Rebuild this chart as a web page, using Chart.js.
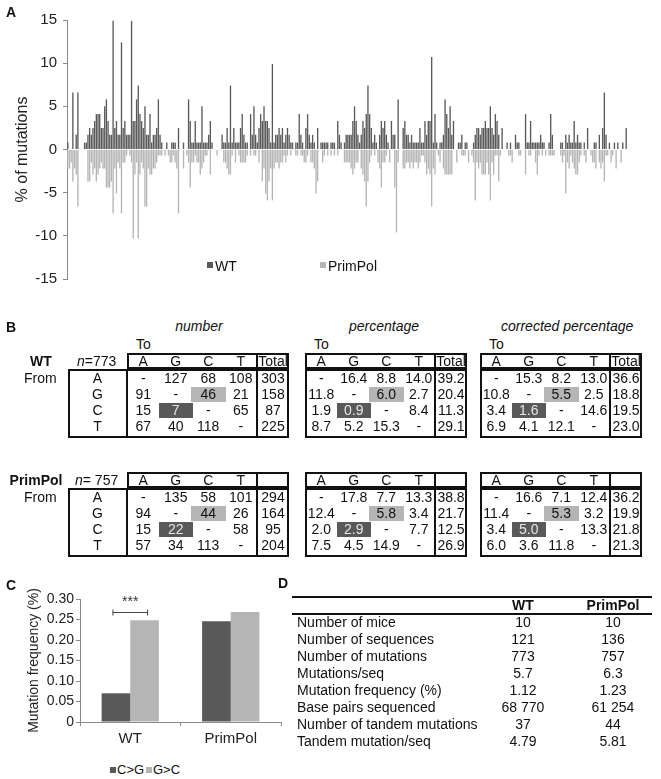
<!DOCTYPE html>
<html><head><meta charset="utf-8">
<script src="https://cdn.jsdelivr.net/npm/chart.js@4.4.1/dist/chart.umd.min.js"></script>
<style>
body{margin:0;background:#fff;}
#root{position:relative;width:661px;height:779px;overflow:hidden;font-family:"Liberation Sans",Arial,sans-serif;color:#111;background:#fff;}
.abs{position:absolute;white-space:nowrap;line-height:16px;height:16px;}
.bold{font-weight:bold;}
.nar{font-family:"Liberation Sans Narrow","Liberation Sans",Arial,sans-serif;font-size:13px;}
canvas{position:absolute;}
.box{position:absolute;box-sizing:border-box;border:2px solid #111;}
.vl{position:absolute;background:#111;width:2px;}
.cell{position:absolute;}
</style></head><body><div id="root">
<canvas id="chartA" width="661" height="300" style="left:0;top:0"></canvas>
<canvas id="chartC" width="300" height="190" style="left:0;top:570px"></canvas>
</div>
<script>
// ---------- Panel A data (% of mutations per position) ----------
const WT = [
0.8,0,0,6.6,0,1.7,6.6,0,0,0,
0.8,0.8,1.7,2.5,1.7,2.5,3.3,4.1,4.1,4.1,
2.5,2.5,5.0,5.8,3.3,1.7,1.7,14.9,2.5,3.3,
1.7,1.7,12.4,2.5,3.3,1.7,1.7,1.7,14.9,3.3,
3.3,5.8,7.4,4.1,3.3,2.5,5.0,1.7,1.7,4.1,
0.8,1.7,1.7,2.5,5.8,1.7,0.8,0,0,0.8,
0,0,0.8,0.8,0.8,0,2.5,0,0,0.8,
0,0,5.8,3.3,0.8,0.8,3.3,0.8,0.8,0.8,
5.0,0.8,0.8,0.8,1.7,3.3,0.8,0,0,0,
0,0,1.7,0.8,0.8,2.5,0.8,7.4,0.8,2.5,
0.8,0.8,0.8,2.5,4.1,1.7,0.8,0.8,0,4.1,
1.7,5.0,1.7,0.8,2.5,4.1,3.3,5.0,3.3,3.3,
2.5,0.8,9.9,0.8,1.7,1.7,2.5,1.7,2.5,0.8,
1.7,2.5,1.7,0.8,0.8,0,0.8,0.8,4.1,1.7,
0.8,0,2.5,4.1,1.7,0.8,1.7,0.8,0,2.5,
0,0.8,0.8,0.8,0.8,0.8,0,0.8,0.8,0.8,
0,3.3,1.7,0.8,0,0.8,1.7,1.7,1.7,1.7,
3.3,5.0,3.3,1.7,0.8,1.7,3.3,2.5,4.1,7.4,
4.1,2.5,0.8,1.7,0.8,0,1.7,3.3,2.5,3.3,
1.7,0.8,0,3.3,1.7,1.7,0,5.8,0,0,
2.5,3.3,1.7,1.7,0.8,1.7,0.8,0.8,0.8,0.8,
2.5,0.8,0.8,3.3,1.7,3.3,3.3,10.7,0.8,4.1,
0.8,0,0.8,0.8,1.7,5.8,4.1,2.5,5.0,1.7,
3.3,0,0,0.8,0.8,1.7,0,0.8,0.8,0,
0,0,0.8,1.7,2.5,2.5,1.7,2.5,2.5,3.3,
2.5,2.5,5.0,2.5,1.7,4.1,3.3,1.7,0,2.5,
0,0,0.8,0,0.8,0,0,1.7,0.8,0.8,
0,0,0,4.1,0.8,0.8,3.3,0.8,0.8,0.8,
0.8,0.8,1.7,0.8,0.8,0,0,0.8,4.1,1.7,
0,0,0,0,0.8,0.8,0,1.7,0.8,1.7,
0.8,0.8,3.3,0.8,1.7,0.8,0.8,0,0.8,0,
2.5,0,0,0,0.8,0.8,0,1.7,0,2.5,
6.6,1.7,0,0.8,0,0,0.8,0,0.8,0,
0,0.8,0,2.5];
const PRIMPOL = [
-2.2,-2.2,-1.5,-3.7,-2.2,-2.9,-6.6,0,0,0,
0,0,-3.7,-3.7,-1.5,-2.9,-2.2,-3.7,-2.9,-2.2,
-1.5,-2.2,-2.2,-4.4,-4.4,-4.4,-3.7,-7.4,-2.2,-5.1,
-1.5,-2.2,-7.4,-1.5,-1.5,-0.7,0,-0.7,-1.5,-10.3,
-2.9,-1.5,-10.3,-2.9,-1.5,-2.2,-6.6,-6.6,-2.2,-2.9,
-2.9,-2.2,-2.2,-1.5,-0.7,-0.7,-0.7,0,-0.7,0,
-0.7,-1.5,-1.5,-0.7,-1.5,-2.2,-7.4,0,0,-2.2,
0,-0.7,-1.5,-4.4,-1.5,-1.5,-0.7,-1.5,-1.5,-2.9,
-2.2,-1.5,-0.7,-0.7,0,-2.9,0,0,0,-0.7,
0,0,0,-1.5,-1.5,-2.2,-2.9,-2.9,-0.7,0,
-1.5,0,-0.7,-1.5,-1.5,-1.5,-1.5,-0.7,0,-0.7,
0,-0.7,-0.7,0,-1.5,0,-3.7,-2.2,-5.1,-5.9,
-3.7,-2.2,-5.9,-2.2,-1.5,-1.5,-2.2,-1.5,-1.5,-0.7,
-1.5,-0.7,0,-0.7,0,0,-0.7,-0.7,0,-0.7,
-0.7,-1.5,-1.5,-0.7,0,-1.5,-1.5,-2.2,-5.1,-3.7,
0,0,-1.5,-0.7,0,-0.7,0,-0.7,0,-0.7,
0,-0.7,0,0,0,-1.5,-1.5,-1.5,-1.5,-2.2,
-2.9,-2.2,-1.5,-1.5,0,-2.2,-2.9,-3.7,-6.6,-3.7,
-1.5,-0.7,0,-0.7,0,-1.5,-2.2,-4.4,-1.5,-1.5,
-0.7,0,-1.5,0,0,-4.4,-9.6,-1.5,0,0,
-2.2,-2.2,-1.5,-1.5,-2.2,-1.5,-2.2,-1.5,-1.5,-2.2,
-1.5,-0.7,-0.7,-1.5,-2.9,-2.2,-2.9,-6.6,-2.2,-2.9,
0,-0.7,-1.5,0,-2.2,-2.9,-2.9,-2.9,-2.9,-2.9,
0,0,-1.5,0,0,-0.7,-0.7,-0.7,0,-1.5,
0,-0.7,-1.5,-5.9,-1.5,-2.2,-1.5,-2.9,-2.9,-2.9,
-1.5,-2.9,-5.9,-1.5,-2.9,-0.7,-0.7,-3.7,-0.7,0,
0,0,0,-0.7,-0.7,-1.5,0,0,0,-0.7,
-0.7,0,0,-2.9,0,-0.7,-0.7,0,0,-1.5,
-2.9,-0.7,0,-0.7,0,-0.7,0,-0.7,-0.7,-0.7,
-0.7,0,0,0,-0.7,-1.5,-0.7,-5.1,-1.5,-2.2,
-0.7,-1.5,-2.2,-2.9,-2.9,-1.5,-0.7,0,-0.7,-1.5,
0,0,-0.7,-1.5,-1.5,-2.2,0,-1.5,-2.2,-1.5,
-3.7,-0.7,-0.7,0,-1.5,-0.7,0,-2.2,0,0,
-1.5,0,0,0];
const POSITIONS = WT.map((_, i) => String(i + 1));
const A_TICKS = [15, 10, 5, 0, -5, -10, -15];

// ---------- Panel B data ----------
const BASES = ['A', 'G', 'C', 'T'];
const WT_NUMBER = [['-','127','68','108','303'],['91','-','46','21','158'],['15','7','-','65','87'],['67','40','118','-','225']];
const WT_PCT = [['-','16.4','8.8','14.0','39.2'],['11.8','-','6.0','2.7','20.4'],['1.9','0.9','-','8.4','11.3'],['8.7','5.2','15.3','-','29.1']];
const WT_CORR = [['-','15.3','8.2','13.0','36.6'],['10.8','-','5.5','2.5','18.8'],['3.4','1.6','-','14.6','19.5'],['6.9','4.1','12.1','-','23.0']];
const PP_NUMBER = [['-','135','58','101','294'],['94','-','44','26','164'],['15','22','-','58','95'],['57','34','113','-','204']];
const PP_PCT = [['-','17.8','7.7','13.3','38.8'],['12.4','-','5.8','3.4','21.7'],['2.0','2.9','-','7.7','12.5'],['7.5','4.5','14.9','-','26.9']];
const PP_CORR = [['-','16.6','7.1','12.4','36.2'],['11.4','-','5.3','3.2','19.9'],['3.4','5.0','-','13.3','21.8'],['6.0','3.6','11.8','-','21.3']];

// ---------- Panel C data ----------
const C_CATS = ['WT', 'PrimPol'];
const C_CG = [0.07, 0.246];
const C_GC = [0.248, 0.268];

// ---------- Panel D data ----------
const D_LABELS = ['Number of mice','Number of sequences','Number of mutations','Mutations/seq','Mutation frequency (%)','Base pairs sequenced','Number of tandem mutations','Tandem mutation/seq'];
const D_WT = ['10','121','773','5.7','1.12','68 770','37','4.79'];
const D_PP = ['10','136','757','6.3','1.23','61 254','44','5.81'];

const DARK = '#595959', LIGHT = '#b5b5b5', AXIS = '#8a8a8a';
Chart.defaults.font.family = '"Liberation Sans", Arial, sans-serif';
Chart.defaults.color = '#222';

const root = document.getElementById('root');
function put(text, x, y, opts = {}) {
  const d = document.createElement('div');
  d.className = 'abs ' + (opts.cls || '');
  d.textContent = text;
  const fs = opts.size || 14;
  d.style.fontSize = fs + 'px';
  d.style.top = (y - 8) + 'px';
  if (opts.align === 'center') { d.style.left = (x - 60) + 'px'; d.style.width = '120px'; d.style.textAlign = 'center'; }
  else if (opts.align === 'right') { d.style.left = (x - 120) + 'px'; d.style.width = '120px'; d.style.textAlign = 'right'; }
  else d.style.left = x + 'px';
  if (opts.italic) d.style.fontStyle = 'italic';
  if (opts.color) d.style.color = opts.color;
  root.appendChild(d);
  return d;
}
function rect(x1, y1, x2, y2, cls, bg) {
  const d = document.createElement('div');
  d.className = cls;
  d.style.left = x1 + 'px'; d.style.top = y1 + 'px';
  d.style.width = (x2 - x1) + 'px'; d.style.height = (y2 - y1) + 'px';
  if (bg) d.style.background = bg;
  root.appendChild(d);
  return d;
}

// ---------- Panel labels ----------
put('A', 6, 12, {cls: 'bold', size: 14});
put('B', 6, 327, {cls: 'bold', size: 14});
put('C', 6, 585, {cls: 'bold', size: 14});
put('D', 278, 583, {cls: 'bold', size: 14});

// ---------- Panel A chart ----------
new Chart(document.getElementById('chartA'), {
  type: 'bar',
  data: {
    labels: POSITIONS,
    datasets: [
      {label: 'WT', data: WT, backgroundColor: DARK, grouped: false, barPercentage: 0.8, categoryPercentage: 1},
      {label: 'PrimPol', data: PRIMPOL, backgroundColor: LIGHT, grouped: false, barPercentage: 0.8, categoryPercentage: 1}
    ]
  },
  options: {
    responsive: false, animation: false, devicePixelRatio: 1,
    layout: {padding: {top: 20, bottom: 21, left: 0, right: 34}},
    plugins: {legend: {display: false}, tooltip: {enabled: false}},
    scales: {
      x: {display: false},
      y: {
        min: -15, max: 15,
        afterBuildTicks: s => { s.ticks = A_TICKS.map(v => ({value: v})); },
        ticks: {color: '#222', font: {size: 15}, padding: 6},
        grid: {drawOnChartArea: false, drawTicks: true, tickLength: 4, color: AXIS},
        border: {display: true, color: AXIS},
        title: {display: true, text: '% of mutations', font: {size: 16}, color: '#222', padding: {top: 13, bottom: 0}},
        afterFit: s => { s.width = 67; }
      }
    }
  }
});
// legend A
rect(207, 262, 213, 268, 'cell', DARK);
put('WT', 215, 266, {size: 14});
rect(320, 262, 326, 268, 'cell', LIGHT);
put('PrimPol', 328, 266, {size: 14});

// ---------- Panel B tables ----------
const COLW = 32.5, TOTW = 32;
function table(left, rowCol, headTop, dataTop, dataBottom, rowYs, values, showTotal, lightRC, darkRC) {
  const right = left + 4 * COLW + TOTW;
  const sep = left + 4 * COLW;
  const hl = (rc, col) => rect(left + rc[1] * COLW - 1, rowYs[rc[0]] - 7.5, left + (rc[1] + 1) * COLW + 1, rowYs[rc[0]] + 7.5, 'cell', col);
  hl(lightRC, LIGHT); hl(darkRC, DARK);
  rect(left, headTop, right, headTop + 16, 'box');
  rect(sep - 1, headTop, sep + 1, headTop + 16, 'vl');
  BASES.forEach((b, i) => put(b, left + (i + 0.5) * COLW, headTop + 8, {cls: 'nar', align: 'center', size: 14}));
  if (showTotal) put('Total', sep + TOTW / 2, headTop + 8, {cls: 'nar', align: 'center', size: 14});
  const dl = rowCol ? 68 : left;
  rect(dl, dataTop, right, dataBottom, 'box');
  if (rowCol) rect(left - 1, dataTop, left + 1, dataBottom, 'vl');
  rect(sep - 1, dataTop, sep + 1, dataBottom, 'vl');
  if (rowCol) BASES.forEach((b, i) => put(b, (68 + left) / 2, rowYs[i], {cls: 'nar', align: 'center', size: 14}));
  values.forEach((row, r) => row.forEach((v, c) => {
    const x = c < 4 ? left + (c + 0.5) * COLW : sep + TOTW / 2;
    const isDark = r === darkRC[0] && c === darkRC[1];
    put(v, x, rowYs[r], {cls: 'nar', align: 'center', size: 14, color: isDark ? '#e6e6e6' : '#111'});
  }));
}
const T_LEFTS = [127, 305, 480];
put('number', 199, 326, {italic: true, align: 'center', size: 14});
put('percentage', 384, 326, {italic: true, align: 'center', size: 14});
put('corrected percentage', 561, 326, {italic: true, align: 'center', size: 14});
T_LEFTS.forEach(l => put('To', l + 9, 344, {cls: 'nar', size: 14}));
// WT block
put('WT', 41, 361, {cls: 'bold', align: 'center', size: 14});
const nw = put('', 77, 361, {size: 14});
nw.innerHTML = '<i>n</i>=773';
put('From', 24, 378, {size: 14});
const WT_ROWS = [378, 394, 410, 426];
table(127, true, 353, 369, 438, WT_ROWS, WT_NUMBER, true, [1, 2], [2, 1]);
table(305, false, 353, 369, 438, WT_ROWS, WT_PCT, true, [1, 2], [2, 1]);
table(480, false, 353, 369, 438, WT_ROWS, WT_CORR, true, [1, 2], [2, 1]);
// PrimPol block
put('PrimPol', 36, 480, {cls: 'bold', align: 'center', size: 14});
const np = put('', 75, 480, {size: 14});
np.innerHTML = '<i>n</i>= 757';
put('From', 24, 497, {size: 14});
const PP_ROWS = [497, 513, 529, 545];
table(127, true, 472, 488, 557, PP_ROWS, PP_NUMBER, false, [1, 2], [2, 1]);
table(305, false, 472, 488, 557, PP_ROWS, PP_PCT, false, [1, 2], [2, 1]);
table(480, false, 472, 488, 557, PP_ROWS, PP_CORR, false, [1, 2], [2, 1]);

// ---------- Panel C chart ----------
const bracketPlugin = {
  id: 'bracket',
  afterDatasetsDraw(chart) {
    const ctx = chart.ctx, y = chart.scales.y;
    const b0 = chart.getDatasetMeta(0).data[0], b1 = chart.getDatasetMeta(1).data[0];
    const x1 = b0.x - 3, x2 = b1.x + 3, yy = Math.round(y.getPixelForValue(0.268)) + 0.5;
    ctx.save();
    ctx.strokeStyle = '#444'; ctx.lineWidth = 1;
    ctx.beginPath();
    ctx.moveTo(x1, yy); ctx.lineTo(x2, yy);
    ctx.moveTo(x1, yy - 3); ctx.lineTo(x1, yy + 3);
    ctx.moveTo(x2, yy - 3); ctx.lineTo(x2, yy + 3);
    ctx.stroke();
    ctx.fillStyle = '#333'; ctx.font = '14px "Liberation Sans", Arial, sans-serif';
    ctx.textAlign = 'center'; ctx.textBaseline = 'middle';
    ctx.fillText('***', (x1 + x2) / 2, y.getPixelForValue(0.292));
    ctx.restore();
  }
};
new Chart(document.getElementById('chartC'), {
  type: 'bar',
  data: {
    labels: C_CATS,
    datasets: [
      {label: 'C>G', data: C_CG, backgroundColor: DARK, barPercentage: 1, categoryPercentage: 0.57},
      {label: 'G>C', data: C_GC, backgroundColor: LIGHT, barPercentage: 1, categoryPercentage: 0.57}
    ]
  },
  options: {
    responsive: false, animation: false, devicePixelRatio: 1,
    layout: {padding: {top: 29, bottom: 0, left: 0, right: 19}},
    plugins: {legend: {display: false}, tooltip: {enabled: false}},
    scales: {
      x: {
        ticks: {color: '#222', font: {size: 15}, padding: 4},
        grid: {drawOnChartArea: false, drawTicks: true, tickLength: 4, color: AXIS, offset: true},
        border: {display: true, color: AXIS},
        afterFit: s => { s.height = 38; }
      },
      y: {
        min: 0, max: 0.3,
        ticks: {stepSize: 0.05, color: '#222', font: {size: 14}, padding: 2},
        grid: {drawOnChartArea: false, drawTicks: true, tickLength: 4, color: AXIS},
        border: {display: true, color: AXIS},
        title: {display: true, text: 'Mutation frequency (%)', font: {size: 14}, color: '#222', padding: {top: 26, bottom: 0}},
        afterFit: s => { s.width = 80; }
      }
    }
  },
  plugins: [bracketPlugin]
});
// legend C
rect(110, 767, 116, 773, 'cell', DARK);
put('C>G', 117, 770, {size: 13});
rect(146, 767, 152, 773, 'cell', LIGHT);
put('G>C', 153, 770, {size: 13});

// ---------- Panel D table ----------
rect(292, 596, 652, 598, 'cell', '#111');
rect(292, 613, 652, 615, 'cell', '#111');
put('WT', 523, 605, {cls: 'bold', align: 'center', size: 14});
put('PrimPol', 613, 605, {cls: 'bold', align: 'center', size: 14});
const D_ROWS = [622, 639, 656, 673, 690, 707, 724, 741];
D_LABELS.forEach((l, i) => {
  put(l, 297, D_ROWS[i], {size: 14});
  put(D_WT[i], 523, D_ROWS[i], {align: 'center', size: 14});
  put(D_PP[i], 613, D_ROWS[i], {align: 'center', size: 14});
});
</script>
</body></html>
